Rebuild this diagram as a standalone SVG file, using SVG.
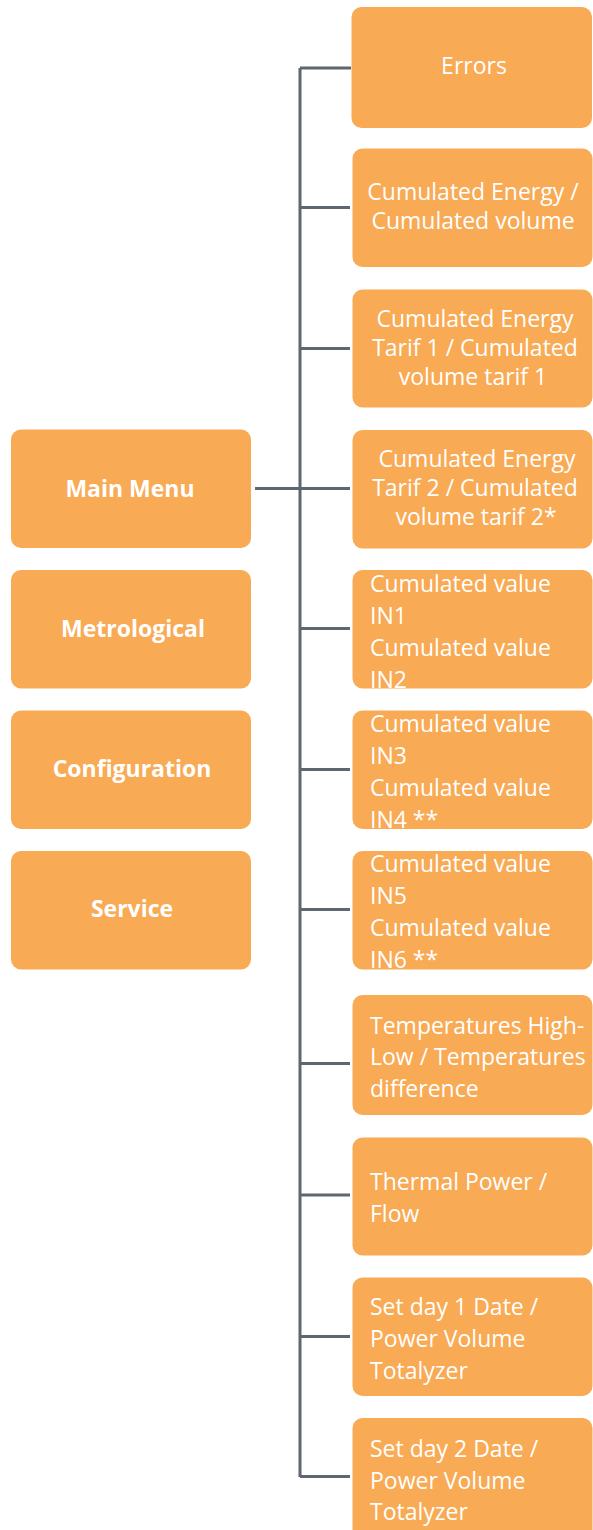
<svg xmlns="http://www.w3.org/2000/svg" width="593" height="1530" viewBox="0 0 593 1530">
<style>
.box{fill:#F8AA55}
.t{font-family:"Open Sans","Noto Sans","Liberation Sans",sans-serif;font-size:23px;fill:#ffffff;font-weight:400}
.c{text-anchor:middle}
.v{font-size:23px}
.b{font-family:"Open Sans","Noto Sans","Liberation Sans",sans-serif;font-size:23px;fill:#ffffff;font-weight:700;text-anchor:middle}
.ln{stroke:#5E6670;stroke-width:3;fill:none}
</style>
<rect width="593" height="1530" fill="#ffffff"/>
<g id="connectors">
<path class="ln" d="M300 68 V1477"/>
<path class="ln" d="M255 488.5 H300"/>
<path class="ln" d="M300 68 H351"/>
<path class="ln" d="M300 207.5 H350"/>
<path class="ln" d="M300 348.5 H350"/>
<path class="ln" d="M300 488.5 H350"/>
<path class="ln" d="M300 628.5 H350"/>
<path class="ln" d="M300 769.5 H350"/>
<path class="ln" d="M300 909.5 H350"/>
<path class="ln" d="M300 1063.5 H350"/>
<path class="ln" d="M300 1195 H350"/>
<path class="ln" d="M300 1336.5 H350"/>
<path class="ln" d="M300 1476.5 H350"/>
</g>
<g id="main-menu"><rect class="box" x="11" y="429.5" width="240" height="118.5" rx="10"/><text class="b" x="130" y="496.5">Main Menu</text></g>
<g id="metrological"><rect class="box" x="11" y="570" width="240" height="118.5" rx="10"/><text class="b" x="133" y="636.5">Metrological</text></g>
<g id="configuration"><rect class="box" x="11" y="710.5" width="240" height="118.5" rx="10"/><text class="b" x="132" y="777">Configuration</text></g>
<g id="service"><rect class="box" x="11" y="851" width="240" height="118.5" rx="10"/><text class="b" x="132" y="917">Service</text></g>
<g id="errors"><rect class="box" x="351.5" y="7" width="240.5" height="121" rx="10"/><text class="t c" x="474" y="74">Errors</text></g>
<g id="cum-energy"><rect class="box" x="352.5" y="148.5" width="240" height="118.5" rx="10"/><text class="t c" x="471"><tspan x="473" y="200">Cumulated Energy /</tspan><tspan x="473" y="229">Cumulated volume</tspan></text></g>
<g id="cum-energy-t1"><rect class="box" x="352.5" y="289.5" width="240" height="118" rx="10"/><text class="t c"><tspan x="475" y="327">Cumulated Energy</tspan><tspan x="475" y="356">Tarif 1 / Cumulated</tspan><tspan x="473" y="385">volume tarif 1</tspan></text></g>
<g id="cum-energy-t2"><rect class="box" x="352.5" y="430" width="240" height="118.5" rx="10"/><text class="t c"><tspan x="477" y="467">Cumulated Energy</tspan><tspan x="475" y="496">Tarif 2 / Cumulated</tspan><tspan x="476" y="525">volume tarif 2*</tspan></text></g>
<g id="cum-in1-in2"><rect class="box" x="352.5" y="570" width="240" height="118.5" rx="10"/><text class="t v"><tspan x="370" y="591.5">Cumulated value</tspan><tspan x="370" y="623.5">IN1</tspan><tspan x="370" y="655.5">Cumulated value</tspan><tspan x="370" y="687.5">IN2</tspan></text></g>
<g id="cum-in3-in4"><rect class="box" x="352.5" y="710.5" width="240" height="118.5" rx="10"/><text class="t v"><tspan x="370" y="731.5">Cumulated value</tspan><tspan x="370" y="763.5">IN3</tspan><tspan x="370" y="795.5">Cumulated value</tspan><tspan x="370" y="827.5">IN4 **</tspan></text></g>
<g id="cum-in5-in6"><rect class="box" x="352.5" y="851" width="240" height="118.5" rx="10"/><text class="t v"><tspan x="370" y="872">Cumulated value</tspan><tspan x="370" y="904">IN5</tspan><tspan x="370" y="936">Cumulated value</tspan><tspan x="370" y="968">IN6 **</tspan></text></g>
<g id="temperatures"><rect class="box" x="352.5" y="995" width="240" height="120" rx="10"/><text class="t v"><tspan x="370" y="1033.5">Temperatures High-</tspan><tspan x="370" y="1065">Low / Temperatures</tspan><tspan x="370" y="1097">difference</tspan></text></g>
<g id="thermal-power"><rect class="box" x="352.5" y="1137.5" width="240" height="118" rx="10"/><text class="t v"><tspan x="370" y="1190">Thermal Power /</tspan><tspan x="370" y="1222">Flow</tspan></text></g>
<g id="set-day-1"><rect class="box" x="352.5" y="1277.5" width="240" height="118.5" rx="10"/><text class="t v"><tspan x="370" y="1315">Set day 1 Date /</tspan><tspan x="370" y="1347">Power Volume</tspan><tspan x="370" y="1378.5">Totalyzer</tspan></text></g>
<g id="set-day-2"><rect class="box" x="352.5" y="1418" width="240" height="130" rx="10"/><text class="t v"><tspan x="370" y="1457">Set day 2 Date /</tspan><tspan x="370" y="1488.5">Power Volume</tspan><tspan x="370" y="1520">Totalyzer</tspan></text></g>
</svg>
